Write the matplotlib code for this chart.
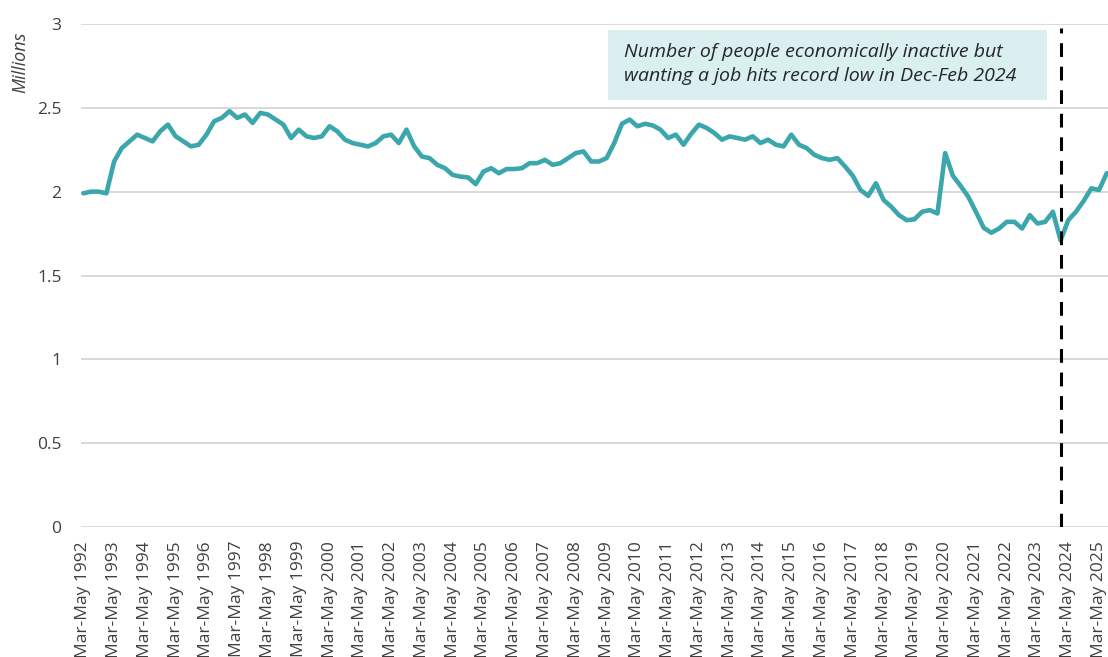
import matplotlib
matplotlib.use("Agg")
import matplotlib.pyplot as plt
from matplotlib.patches import Rectangle

plt.rcParams['font.family'] = ['Open Sans', 'DejaVu Sans']

# Rolling three-month periods, sampled every quarter starting Mar-May 1992
season_names = ["Mar-May", "Jun-Aug", "Sep-Nov", "Dec-Feb"]
start_year = 1992

# Economically inactive but wanting a job (millions)
values = [
    1.99, 2.00, 2.00, 1.99, 2.18, 2.26, 2.30, 2.34, 2.32, 2.30,
    2.36, 2.40, 2.33, 2.30, 2.27, 2.28, 2.34, 2.42, 2.44, 2.48,
    2.44, 2.46, 2.41, 2.47, 2.46, 2.43, 2.40, 2.32, 2.37, 2.33,
    2.32, 2.33, 2.39, 2.36, 2.31, 2.29, 2.28, 2.27, 2.29, 2.33,
    2.34, 2.29, 2.37, 2.27, 2.21, 2.20, 2.16, 2.14, 2.10, 2.09,
    2.085, 2.045, 2.12, 2.14, 2.11, 2.135, 2.135, 2.14, 2.17, 2.17,
    2.19, 2.16, 2.17, 2.20, 2.23, 2.24, 2.18, 2.18, 2.20, 2.29,
    2.405, 2.43, 2.39, 2.405, 2.395, 2.37, 2.32, 2.34, 2.28, 2.345,
    2.40, 2.38, 2.35, 2.31, 2.33, 2.32, 2.31, 2.33, 2.29, 2.31,
    2.28, 2.27, 2.34, 2.28, 2.26, 2.22, 2.20, 2.19, 2.20, 2.15,
    2.095, 2.01, 1.975, 2.05, 1.95, 1.91, 1.86, 1.83, 1.835, 1.88,
    1.89, 1.87, 2.23, 2.095, 2.035, 1.97, 1.88, 1.785, 1.755, 1.78,
    1.82, 1.82, 1.78, 1.86, 1.81, 1.82, 1.88, 1.71, 1.83, 1.88,
    1.945, 2.02, 2.01, 2.11,
]

periods = []
for i in range(len(values)):
    yr = start_year + (i + 1) // 4 if i % 4 == 3 else start_year + i // 4
    periods.append(f"{season_names[i % 4]} {yr}")

tick_periods = [p for p in periods if p.startswith("Mar-May")]
marker_period = "Dec-Feb 2024"
y_ticks = [0, 0.5, 1, 1.5, 2, 2.5, 3]
y_tick_labels = ["0", "0.5", "1", "1.5", "2", "2.5", "3"]
annotation = "Number of people economically inactive but\nwanting a job hits record low in Dec-Feb 2024"

W, H = 1108, 657
fig = plt.figure(figsize=(W / 100, H / 100), dpi=100)
ax = fig.add_axes([81 / W, 130 / H, 1027 / W, 503 / H])

xs = list(range(len(periods)))
ax.plot(xs, values, color="#3ba7ac", lw=3.3, solid_joinstyle="round", solid_capstyle="round", zorder=3)

ax.axvline(periods.index(marker_period), ymax=0.992, color="black", lw=2.2,
           ls=(0, (4.5, 3.2)), zorder=4)

ax.set_ylim(0, 3)
ax.set_xlim(-0.3, -0.3 + 1027 / 7.695)
ax.set_yticks(y_ticks)
ax.set_yticklabels(y_tick_labels)
ax.set_xticks([periods.index(p) for p in tick_periods])
ax.set_xticklabels(tick_periods, rotation=90)
ax.grid(axis="y", color="#d9d9d9", lw=1.4, zorder=0)
ax.grid(axis="x", visible=False)
for s in ax.spines.values():
    s.set_visible(False)
ax.tick_params(axis="y", length=0, pad=14, labelsize=12.5, labelcolor="#404040")
ax.tick_params(axis="x", length=0, pad=10, labelsize=12.5, labelcolor="#404040")

fig.text(20 / W, 1 - 62 / H, "Millions", rotation=90, ha="center", va="center",
         fontsize=13, style="italic", color="#404040")

fig.patches.append(Rectangle((608 / W, 1 - 100 / H), (1047 - 608) / W, 70 / H,
                             transform=fig.transFigure, facecolor="#d9eff0",
                             edgecolor="none", zorder=5))
fig.text(624 / W, 1 - 64 / H, annotation, ha="left", va="center", fontsize=14,
         style="italic", color="#262626", linespacing=1.4, zorder=6)

fig.savefig("out.png", dpi=100)
